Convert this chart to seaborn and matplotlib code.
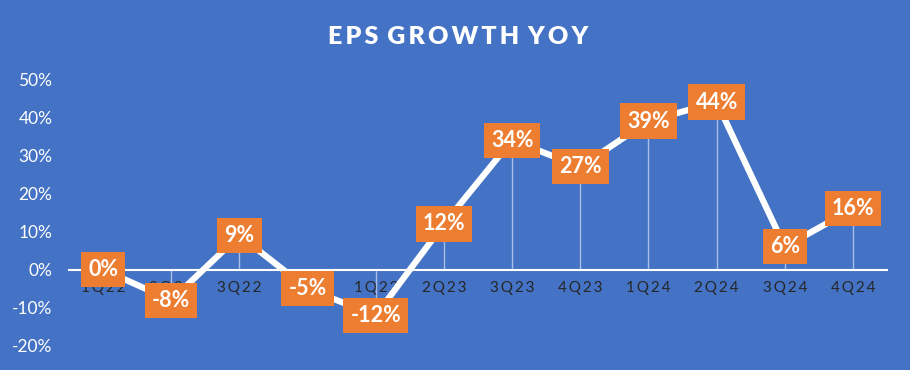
import matplotlib
matplotlib.use("Agg")
import matplotlib.pyplot as plt
import numpy as np
import pandas as pd
import seaborn as sns

# Chart data
quarters = ["1Q22", "2Q22", "3Q22", "4Q22", "1Q23", "2Q23",
            "3Q23", "4Q23", "1Q24", "2Q24", "3Q24", "4Q24"]
eps_growth = [0, -8, 9, -5, -12, 12, 34, 27, 39, 44, 6, 16]
y_ticks = [-20, -10, 0, 10, 20, 30, 40, 50]

BG = "#4472C4"
ORANGE = "#ED7D31"

sns.set_theme(style="white")
plt.rcParams["font.family"] = ["Lato", "DejaVu Sans"]

df = pd.DataFrame({"quarter": quarters, "growth": eps_growth})
df["pos"] = np.arange(len(df))

fig = plt.figure(figsize=(9.1, 3.7), dpi=100, facecolor=BG)
ax = fig.add_axes([0.0758, 0.065, 0.899, 0.721])
ax.set_facecolor(BG)

# thin drop lines from zero to each point
ax.vlines(df["pos"], 0, df["growth"], color="white", alpha=0.55, lw=1.0, zorder=2)

sns.lineplot(data=df, x="pos", y="growth", ax=ax, color="white",
             linewidth=4.5, zorder=3, legend=False)

for x, v in zip(df["pos"], df["growth"]):
    ax.text(x, v, f"{v}%", ha="center", va="center", color="white",
            fontsize=15.5, fontweight="bold", zorder=5,
            bbox=dict(boxstyle="square,pad=0.33", fc=ORANGE, ec="none"))

ax.set_xlim(-0.5, len(df) - 0.5)
ax.set_ylim(-20, 50)
ax.set_xticks(df["pos"])
ax.set_xticklabels(["\u2009".join(q) for q in df["quarter"]],
                   color="white", fontsize=12.5)
ax.set_yticks(y_ticks)
ax.set_yticklabels([f"{t}%" for t in y_ticks], color="white", fontsize=12.5)
ax.tick_params(axis="both", length=0)
ax.tick_params(axis="x", pad=8)
ax.tick_params(axis="y", pad=12)
ax.set_xlabel("")
ax.set_ylabel("")

for side in ["top", "right", "left"]:
    ax.spines[side].set_visible(False)
ax.spines["bottom"].set_position(("data", 0))
ax.spines["bottom"].set_color("white")
ax.spines["bottom"].set_linewidth(1.5)
ax.spines["bottom"].set_zorder(1)

fig.text(0.503, 0.9, "E\u2009P\u2009S\u2009 G\u2009R\u2009O\u2009W\u2009T\u2009H\u2009 Y\u2009O\u2009Y",
         ha="center", va="center", color="white", fontsize=18, fontweight="heavy")

fig.savefig("out.png", dpi=100, facecolor=BG)
